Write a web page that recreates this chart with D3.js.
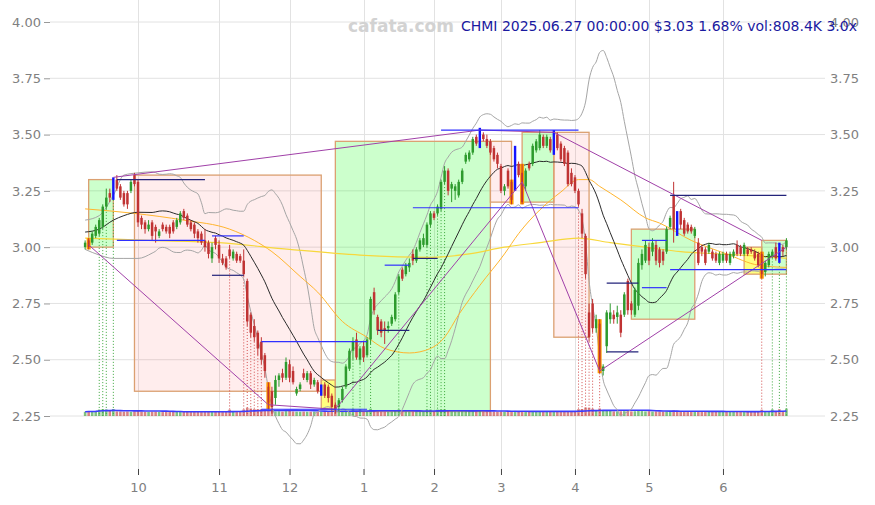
<!DOCTYPE html>
<html><head><meta charset="utf-8">
<script src="https://cdn.jsdelivr.net/npm/d3@7"></script>
<style>body{margin:0;background:#fff}svg{display:block;font-family:"DejaVu Sans",sans-serif}</style>
</head><body><svg id="c" width="875" height="505"></svg>
<script>
// ---------- DATA ----------
const ticker = "CHMI";
const titleText = "CHMI 2025.06.27 00:00:00 $3.03 1.68% vol:808.4K 3.0x";
const watermark = "cafata.com";
const firstDay = "2024-09-10";
const holidays = ["2024-11-28","2024-12-25","2025-01-01","2025-01-09","2025-01-20","2025-02-17","2025-04-18","2025-05-26","2025-06-19"];
const priceTicks = [2.25,2.50,2.75,3.00,3.25,3.50,3.75,4.00];

const open = [3.00,3.03,3.02,3.05,3.06,3.09,3.18,3.24,3.22,3.30, 3.27,3.24,3.24,3.25,3.32,3.29,3.13,3.11,3.08,3.11,
3.09,3.05,3.10,3.09,3.09,3.11,3.09,3.11,3.16,3.14, 3.11,3.10,3.07,3.06,3.03,3.02,2.95,3.04,3.01,2.95,
2.95,2.99,2.95,2.97,2.96,2.94,2.85,2.70,2.65,2.62, 2.58,2.52,2.38,2.36,2.33,2.41,2.44,2.42,2.48,2.45,
2.35,2.37,2.44,2.41,2.44,2.39,2.40,2.37,2.39,2.38, 2.34,2.30,2.29,2.32,2.38,2.46,2.54,2.59,2.50,2.56,
2.52,2.59,2.80,2.69,2.67,2.64,2.64,2.66,2.68,2.80, 2.90,2.88,2.91,2.97,2.94,2.99,3.01,3.01,3.10,3.15,
3.15,3.17,3.29,3.34,3.26,3.25,3.23,3.29,3.38,3.39, 3.42,3.49,3.46,3.50,3.48,3.47,3.44,3.41,3.36,3.25,
3.34,3.29,3.27,3.37,3.33,3.27,3.37,3.37,3.43,3.44, 3.49,3.45,3.48,3.42,3.50,3.46,3.44,3.42,3.33,3.31,
3.25,3.15,3.05,2.71,2.75,2.64,2.66,2.45,2.56,2.68, 2.70,2.69,2.70,2.70,2.85,2.75,2.70,2.74,2.92,2.94,
3.00,2.98,3.01,2.99,2.98,2.98,3.09,3.23,3.14,3.16, 3.12,3.10,3.09,3.05,3.02,3.00,2.99,2.98,2.98,2.97,
2.93,2.94,2.97,2.93,2.96,3.01,3.00,2.97,2.99,2.99, 2.98,2.97,2.97,2.89,2.92,2.96,3.00,3.01,3.00,3.00];
const high = [3.03,3.04,3.07,3.10,3.13,3.19,3.26,3.26,3.31,3.32, 3.28,3.25,3.25,3.30,3.33,3.30,3.14,3.12,3.12,3.12,
3.10,3.08,3.11,3.10,3.10,3.12,3.13,3.16,3.17,3.15, 3.12,3.11,3.08,3.07,3.08,3.03,3.02,3.05,3.03,2.97,
2.96,3.01,2.99,2.98,2.97,2.99,2.86,2.71,2.68,2.63, 2.60,2.53,2.40,2.38,2.43,2.44,2.46,2.51,2.50,2.47,
2.38,2.40,2.46,2.45,2.45,2.42,2.41,2.39,2.40,2.39, 2.35,2.31,2.33,2.38,2.48,2.55,2.60,2.62,2.56,2.58,
2.60,2.78,2.82,2.70,2.68,2.67,2.67,2.70,2.80,2.88, 2.91,2.93,2.95,2.99,3.00,3.04,3.06,3.11,3.16,3.16,
3.19,3.30,3.36,3.35,3.29,3.28,3.30,3.35,3.42,3.43, 3.49,3.50,3.53,3.51,3.50,3.48,3.45,3.42,3.37,3.28,
3.35,3.30,3.45,3.38,3.37,3.35,3.38,3.46,3.48,3.52, 3.50,3.50,3.49,3.52,3.51,3.47,3.45,3.43,3.35,3.32,
3.26,3.17,3.06,2.75,2.77,2.70,2.68,2.48,2.72,2.75, 2.72,2.74,2.72,2.80,2.86,2.76,2.82,2.95,2.99,3.03,
3.02,3.04,3.03,3.00,2.99,3.09,3.14,3.29,3.16,3.17, 3.13,3.11,3.10,3.09,3.04,3.01,3.00,3.02,2.99,2.98,
2.98,2.98,2.98,2.98,2.99,3.03,3.01,3.02,3.00,3.00, 2.99,2.98,2.98,2.94,2.98,2.99,3.02,3.02,3.01,3.04];
const low = [2.99,2.99,3.01,3.04,3.05,3.08,3.17,3.20,3.21,3.25, 3.21,3.18,3.17,3.24,3.27,3.09,3.08,3.06,3.07,3.03,
3.02,3.04,3.07,3.06,3.04,3.06,3.08,3.10,3.12,3.09, 3.07,3.04,3.02,3.01,2.98,2.95,2.93,2.99,2.93,2.92,
2.90,2.95,2.94,2.93,2.93,2.87,2.65,2.60,2.58,2.52, 2.48,2.42,2.28,2.26,2.30,2.38,2.40,2.41,2.40,2.39,
2.34,2.36,2.41,2.40,2.37,2.38,2.35,2.34,2.33,2.31, 2.27,2.26,2.27,2.31,2.37,2.45,2.50,2.50,2.48,2.49,
2.51,2.57,2.70,2.61,2.60,2.57,2.62,2.65,2.67,2.79, 2.85,2.87,2.89,2.92,2.93,2.98,3.00,3.00,3.09,3.12,
3.14,3.16,3.28,3.23,3.20,3.21,3.22,3.28,3.37,3.38, 3.41,3.45,3.44,3.47,3.44,3.41,3.38,3.35,3.24,3.23,
3.26,3.19,3.25,3.31,3.19,3.25,3.34,3.36,3.42,3.43, 3.44,3.44,3.42,3.41,3.43,3.38,3.36,3.27,3.27,3.24,
3.18,3.04,2.86,2.58,2.62,2.62,2.44,2.43,2.53,2.66, 2.66,2.66,2.60,2.69,2.70,2.70,2.69,2.72,2.90,2.93,
2.92,2.96,2.92,2.91,2.92,2.97,3.08,3.02,3.05,3.08, 3.05,3.06,3.06,3.04,2.92,2.96,2.92,2.97,2.94,2.93,
2.92,2.93,2.93,2.92,2.95,2.96,2.96,2.96,2.96,2.97, 2.94,2.91,2.86,2.87,2.91,2.95,2.94,2.93,2.96,2.99];
const close = [3.02,3.00,3.06,3.09,3.12,3.18,3.22,3.22,3.30,3.26, 3.22,3.19,3.19,3.29,3.28,3.11,3.10,3.08,3.10,3.05,
3.07,3.07,3.08,3.07,3.06,3.07,3.12,3.15,3.13,3.10, 3.08,3.06,3.04,3.02,3.00,2.97,3.00,3.01,2.95,2.93,
2.91,2.96,2.98,2.94,2.94,2.88,2.67,2.62,2.60,2.55, 2.50,2.45,2.31,2.29,2.41,2.43,2.42,2.49,2.42,2.40,
2.37,2.39,2.42,2.44,2.39,2.41,2.36,2.38,2.34,2.33, 2.29,2.28,2.32,2.37,2.47,2.54,2.58,2.51,2.55,2.51,
2.59,2.77,2.72,2.63,2.62,2.63,2.65,2.69,2.79,2.87, 2.86,2.92,2.93,2.94,2.99,3.03,3.04,3.10,3.15,3.13,
3.18,3.29,3.34,3.25,3.28,3.27,3.29,3.34,3.41,3.42, 3.48,3.46,3.52,3.48,3.45,3.42,3.39,3.37,3.25,3.27,
3.27,3.21,3.43,3.32,3.20,3.34,3.35,3.45,3.47,3.50, 3.45,3.49,3.43,3.51,3.44,3.39,3.37,3.28,3.28,3.25,
3.19,3.06,2.88,2.60,2.64,2.68,2.46,2.47,2.71,2.71, 2.68,2.71,2.62,2.79,2.72,2.72,2.81,2.93,2.97,3.01,
2.94,3.02,2.94,2.93,2.94,3.08,3.13,3.08,3.06,3.10, 3.06,3.07,3.07,3.08,2.93,2.98,2.93,3.01,2.95,2.94,
2.97,2.97,2.94,2.97,2.98,2.97,2.97,3.01,2.97,2.98, 2.95,2.92,2.88,2.93,2.97,2.98,2.95,2.94,2.98,3.03];
const volumeK = [220,310,280,350,620,700,650,380,720,300,260,240,280,230,310,
420,260,210,180,230,250,190,170,200,210,180,220,260,200,190,210,230,250,240,300,280,260,240,
270,260,250,610,300,280,290,640,950,820,700,680,660,640,450,380,300,320,260,340,
420,280,250,240,260,230,250,240,220,260,280,300,350,500,420,380,450,400,720,380,650,
300,350,780,420,300,260,250,240,260,380,640,300,280,270,290,310,300,320,600,620,
330,610,640,660,360,300,280,290,320,350,330,380,300,360,280,260,270,290,250,280,
260,300,320,380,290,330,280,260,300,290,320,270,250,260,330,280,290,300,360,300,350,
700,720,1000,950,780,400,820,500,420,380,300,280,320,340,400,300,320,380,350,300,320,
280,300,260,270,330,350,480,380,320,280,260,250,240,300,260,250,270,240,230,250,
240,230,250,260,270,240,250,230,260,280,300,600,320,280,650,300,680,320,808];

// pivot candles
const orangeIdx = [1,52,121,124,146,192];
const blueIdx = [8,67,112,122,133,168,197];
// high-volume markers
const greenMarks = [4,5,6,8,76,78,81,89,97,98,100,101,102,195,197,199];
const redMarks = [41,45,46,47,48,49,50,140,141,142,143,144,146,192];

// 20-day band values for the first bars (history before the window)
const earlyIdx = [0,4,8,11,15];
const earlyMid = [3.067,3.08,3.12,3.14,3.155];
const earlyUp  = [3.12,3.14,3.23,3.32,3.33];
const earlyLow = [2.99,2.965,2.95,2.95,2.95];
// slow moving averages (bar index, price)
const ma50Idx = [0,14,28,41,48,53,61,66,73,80,85,92,98,102,106,112,119,123,129,135,140,143,146,152,159,163,172,182,191,199];
const ma50Val = [3.17,3.15,3.12,3.08,3.03,2.98,2.87,2.80,2.67,2.60,2.55,2.53,2.55,2.60,2.70,2.83,2.97,3.06,3.165,3.245,3.30,3.30,3.27,3.21,3.13,3.107,3.03,2.97,2.92,2.91];
const ma200Idx = [0,18,38,58,78,98,109,119,129,140,149,159,169,180,191,199];
const ma200Val = [3.04,3.03,3.02,2.99,2.965,2.955,2.97,3.00,3.02,3.04,3.02,3.00,2.98,2.97,2.96,2.95];

// zones: [startIdx, endIdx, top, bottom, kind]
const zones = [
 [1,8,3.30,3.00,"up"],[14,67,3.32,2.36,"down"],[67,71,2.41,2.28,"flat"],[71,115,3.47,2.27,"up"],
 [115,121,3.47,3.20,"down"],[124,133,3.51,3.20,"up"],[133,143,3.51,2.60,"down"],[155,173,3.08,2.68,"up"],
 [187,192,3.00,2.88,"flat"],[192,199,3.03,2.88,"up"]];
// levels: [startIdx, endIdx, price, kind]
const levels = [
 [9,34,3.30,"r"],[9,34,3.03,"s"],[36,45,3.05,"s"],[36,45,2.875,"r"],[50,80,2.58,"s"],[50,80,2.28,"s"],
 [83,92,2.63,"r"],[85,92,2.92,"s"],[93,100,2.95,"r"],[93,140,3.175,"s"],[101,140,3.52,"s"],
 [148,157,2.84,"r"],[148,157,2.535,"r"],[158,165,3.03,"s"],[158,165,2.82,"s"],[166,199,3.23,"r"],[166,199,2.90,"s"]];
// trend lines through pivots: [index, price]
const upperTrend = [[8,3.31],[112,3.52],[133,3.51],[192,3.03]];
const lowerTrend = [[1,3.01],[52,2.30],[71,2.28],[124,3.29],[146,2.45],[199,3.00]];

// ---------- DATES ----------
const dates = [];
{ let d = new Date(firstDay+"T00:00:00Z");
  while (dates.length < close.length) {
    const s = d.toISOString().slice(0,10), w = d.getUTCDay();
    if (w!==0 && w!==6 && !holidays.includes(s)) dates.push(s);
    d.setUTCDate(d.getUTCDate()+1);
  } }
const monthStarts = dates.map((s,i)=>i).filter(i=>i>0 && dates[i].slice(5,7)!==dates[i-1].slice(5,7));

// ---------- SCALES ----------
const N = close.length, step = 3.524;
const x = d3.scaleLinear().domain([0,N-1]).range([85.14, 85.14+(N-1)*step]);
const y = d3.scaleLinear().domain([2.0,4.0]).range([472.3,22]);
const vy = d3.scaleLinear().domain([0,1000]).range([413,407.5]);
const base = y(2.25);

const svg = d3.select("#c");
const GREEN="#2d9b2d", RED="#c03333";

// grid
svg.append("g").selectAll("line").data(priceTicks).join("line")
  .attr("x1",50).attr("x2",825).attr("y1",d=>y(d)).attr("y2",d=>y(d))
  .attr("stroke","#e2e2e2").attr("stroke-width",1);
svg.append("g").selectAll("line").data(monthStarts).join("line")
  .attr("x1",i=>Math.round(x(i))+0.5).attr("x2",i=>Math.round(x(i))+0.5).attr("y1",0).attr("y2",469)
  .attr("stroke","#e2e2e2");

// axes
const yl = svg.append("g").attr("transform","translate(50,0)")
  .call(d3.axisLeft(y).tickValues(priceTicks).tickFormat(d3.format(".2f")).tickSize(6).tickPadding(3));
const yr = svg.append("g").attr("transform","translate(826,0)")
  .call(d3.axisRight(y).tickValues(priceTicks).tickFormat(d3.format(".2f")).tickSize(0).tickPadding(4));
const xb = svg.append("g").attr("transform","translate(0,469)")
  .call(d3.axisBottom(x).tickValues(monthStarts).tickFormat(i=>String(+dates[i].slice(5,7))).tickSize(6).tickPadding(8));
[yl,yr,xb].forEach(g=>{g.select(".domain").remove();
  g.selectAll("text").attr("fill","#808080").style("font-size","13px").style("font-family","DejaVu Sans");});
yl.selectAll(".tick line").attr("stroke","#999");
xb.selectAll(".tick line").attr("stroke","#444");

// zones
const zoneFill = {up:"rgba(0,255,0,0.2)",down:"rgba(255,0,0,0.07)",flat:"rgba(255,255,0,0.5)"};
svg.append("g").selectAll("rect").data(zones).join("rect")
  .attr("x",d=>x(d[0])).attr("width",d=>x(d[1])-x(d[0]))
  .attr("y",d=>y(d[2])).attr("height",d=>y(d[3])-y(d[2]))
  .attr("fill",d=>zoneFill[d[4]]).attr("stroke","#dba071").attr("stroke-width",1.3);

// volume bars
const vol = svg.append("g");
vol.selectAll("rect").data(volumeK).join("rect")
  .attr("x",(v,i)=>x(i)-1.3).attr("width",2.6)
  .attr("y",v=>vy(v)).attr("height",v=>base-vy(v))
  .attr("fill",(v,i)=>close[i]>=open[i]?"rgba(45,155,45,0.6)":"rgba(192,51,51,0.6)");

// high-volume markers
const mk = svg.append("g").attr("stroke-width",1).attr("stroke-dasharray","1,2");
mk.selectAll("line.g").data(greenMarks).join("line")
  .attr("x1",i=>x(i)).attr("x2",i=>x(i)).attr("y1",i=>y(low[i])).attr("y2",base).attr("stroke","#3aa63a");
mk.selectAll("line.r").data(redMarks).join("line").attr("class","r")
  .attr("x1",i=>x(i)).attr("x2",i=>x(i)).attr("y1",i=>y(low[i])).attr("y2",base).attr("stroke","#d24a4a");

// volume MA
const idx = d3.range(N);
const volMA = idx.map(i=>d3.mean(volumeK.slice(Math.max(0,i-19),i+1)));
svg.append("path").datum(idx).attr("fill","none").attr("stroke","#3b3bff").attr("stroke-width",1.6)
  .attr("d",d3.line().x(i=>x(i)).y(i=>vy(volMA[i])));

// SMA20 + Bollinger from closes (full windows), early part from readings
const full = d3.range(19,N);
const sma = {}, up = {}, lo = {};
full.forEach(i=>{const w=close.slice(i-19,i+1);const m=d3.mean(w);const s=Math.sqrt(d3.mean(w.map(v=>(v-m)*(v-m))));
  sma[i]=m; up[i]=m+2*s; lo[i]=m-2*s;});
const series = (early,comp)=>earlyIdx.map((d,k)=>[d,early[k]]).concat(full.map(i=>[i,comp[i]]));
const pl = d3.line().x(d=>x(d[0])).y(d=>y(d[1])).curve(d3.curveMonotoneX);
svg.append("path").datum(series(earlyUp,up)).attr("fill","none").attr("stroke","#a5a5a5").attr("stroke-width",1).attr("d",pl);
svg.append("path").datum(series(earlyLow,lo)).attr("fill","none").attr("stroke","#a5a5a5").attr("stroke-width",1).attr("d",pl);
svg.append("path").datum(ma200Idx.map((d,k)=>[d,ma200Val[k]])).attr("fill","none").attr("stroke","#f7d83c").attr("stroke-width",1.2).attr("d",pl);
svg.append("path").datum(ma50Idx.map((d,k)=>[d,ma50Val[k]])).attr("fill","none").attr("stroke","#ffb52e").attr("stroke-width",1).attr("d",pl);
svg.append("path").datum(series(earlyMid,sma)).attr("fill","none").attr("stroke","#2a2a2a").attr("stroke-width",1).attr("d",pl);

// candles
const cg = svg.append("g");
const isBlue = new Set(blueIdx), isOrange = new Set(orangeIdx);
idx.forEach(i=>{
  const cx = x(i), upC = close[i]>=open[i], col = upC?GREEN:RED;
  if (isBlue.has(i)) {
    cg.append("rect").attr("x",cx-1.2).attr("width",2.4).attr("y",y(high[i])).attr("height",y(low[i])-y(high[i])).attr("fill","#1414ff");
    return;
  }
  if (isOrange.has(i)) {
    cg.append("rect").attr("x",cx-2).attr("width",4).attr("y",y(high[i])).attr("height",y(low[i])-y(high[i])).attr("fill","#ff9d00");
  }
  cg.append("line").attr("x1",cx).attr("x2",cx).attr("y1",y(high[i])).attr("y2",y(low[i])).attr("stroke",col).attr("stroke-width",1);
  const t=y(Math.max(open[i],close[i])), b=y(Math.min(open[i],close[i]));
  cg.append("rect").attr("x",cx-(isOrange.has(i)?0.9:1.25)).attr("width",isOrange.has(i)?1.8:2.5)
    .attr("y",t).attr("height",Math.max(1,b-t)).attr("fill",col);
});

// trend lines
const tl = d3.line().x(d=>x(d[0])).y(d=>y(d[1]));
[upperTrend,lowerTrend].forEach(t=>svg.append("path").datum(t).attr("fill","none")
  .attr("stroke","#a040a8").attr("stroke-width",1).attr("d",tl));

// levels
svg.append("g").selectAll("line").data(levels).join("line")
  .attr("x1",d=>x(d[0])).attr("x2",d=>x(d[1])).attr("y1",d=>y(d[2])).attr("y2",d=>y(d[2]))
  .attr("stroke",d=>d[3]==="r"?"#23237a":"#3030ff").attr("stroke-width",1.2);

// texts
svg.append("text").attr("x",401).attr("y",32).attr("text-anchor","middle")
  .style("font-size","17px").style("font-weight","bold").attr("fill","#d2d2d2").text(watermark);
svg.append("text").attr("x",857).attr("y",31).attr("text-anchor","end")
  .style("font-size","14px").attr("fill","#1a1aa0").text(titleText);
</script></body></html>
